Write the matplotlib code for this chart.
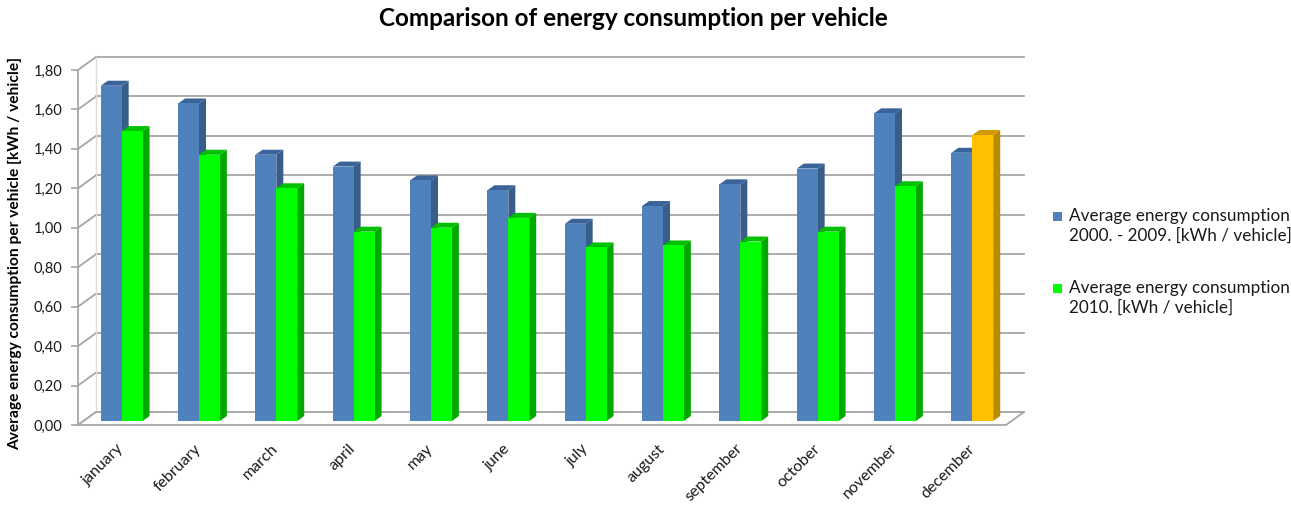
import matplotlib
matplotlib.use("Agg")
import matplotlib.pyplot as plt
from matplotlib.patches import Polygon, Rectangle

months = ["january", "february", "march", "april", "may", "june", "july",
          "august", "september", "october", "november", "december"]
avg_2000_2009 = [1.70, 1.61, 1.35, 1.29, 1.22, 1.17, 1.00, 1.09, 1.20, 1.28, 1.56, 1.36]
avg_2010 = [1.47, 1.35, 1.18, 0.96, 0.98, 1.03, 0.88, 0.89, 0.91, 0.96, 1.19, 1.45]
yticks = [0.0, 0.2, 0.4, 0.6, 0.8, 1.0, 1.2, 1.4, 1.6, 1.8]
ytick_labels = ["0,00", "0,20", "0,40", "0,60", "0,80", "1,00", "1,20", "1,40", "1,60", "1,80"]
legend_labels = ["Average energy consumption\n2000. - 2009. [kWh / vehicle]",
                 "Average energy consumption\n2010. [kWh / vehicle]"]
title = "Comparison of energy consumption per vehicle"
ylabel = "Average energy consumption per vehicle [kWh / vehicle]"

FONT = ["Lato", "DejaVu Sans"]
plt.rcParams['font.family'] = FONT

W, H = 1291, 508
fig = plt.figure(figsize=(W / 100, H / 100), dpi=100)
ax_l, ax_r, ax_b, ax_t = 78, 1006, 425, 70
ax = fig.add_axes([ax_l / W, 1 - ax_b / H, (ax_r - ax_l) / W, (ax_b - ax_t) / H])
n = len(months)
ax.set_xlim(0, n)
ax.set_ylim(0, 1.8)

# pixel -> data conversion
ux = (ax_r - ax_l) / n
uy = (ax_b - ax_t) / 1.8
DX, DY = 18 / ux, 13 / uy          # full floor depth
OX, OY = 5 / ux, 4 / uy            # bar front offset
BX, BY = 7 / ux, 5 / uy            # bar depth

grid_c = "#A6A6A6"
for v in yticks:
    ax.plot([DX, n + DX], [v + DY, v + DY], color=grid_c, lw=1.3, clip_on=False, zorder=1)
    ax.plot([0, DX], [v, v + DY], color=grid_c, lw=1.3, clip_on=False, zorder=1)
ax.plot([DX, DX], [DY, 1.8 + DY], color="#DDDDDD", lw=1.0, clip_on=False, zorder=1)
floor = Polygon([(0, 0), (n, 0), (n + DX, DY), (DX, DY)], closed=True,
                facecolor="white", edgecolor=grid_c, lw=1.3, clip_on=False, zorder=1.5)
ax.add_patch(floor)
ax.plot([0, 0], [0, 1.8], color=grid_c, lw=1.3, clip_on=False, zorder=1.6)

bw = 0.27
blue = ("#4F81BD", "#385D8A", "#3A639A")
green = ("#00FF00", "#00A800", "#00C000")
yellow = ("#FFC000", "#B88A00", "#D09A00")

z = 2
def bar3d(x, h, cols):
    global z
    front, side, top = cols
    x0 = x + OX
    y0 = OY
    sidep = Polygon([(x0 + bw, y0), (x0 + bw + BX, y0 + BY), (x0 + bw + BX, y0 + h + BY), (x0 + bw, y0 + h)],
                    closed=True, facecolor=side, edgecolor="none", clip_on=False, zorder=z)
    topp = Polygon([(x0, y0 + h), (x0 + bw, y0 + h), (x0 + bw + BX, y0 + h + BY), (x0 + BX, y0 + h + BY)],
                   closed=True, facecolor=top, edgecolor="none", clip_on=False, zorder=z)
    ax.add_patch(sidep)
    ax.add_patch(topp)
    ax.bar([x0], [h], width=bw, bottom=y0, align="edge", color=front, edgecolor="none",
           clip_on=False, zorder=z + 0.5)
    z += 1

for i in range(n):
    c = i + 0.5
    bar3d(c - bw, avg_2000_2009[i], blue)
    bar3d(c, avg_2010[i], yellow if i == n - 1 else green)

for s in ax.spines.values():
    s.set_visible(False)
ax.set_yticks(yticks)
ax.set_yticklabels(ytick_labels, fontsize=10.5, color="#1a1a1a")
ax.tick_params(axis="y", length=5, color=grid_c, width=1.2, pad=6)
ax.set_xticks([i + 0.5 for i in range(n)])
ax.set_xticklabels(months, rotation=45, ha="right", va="top", rotation_mode="anchor",
                   fontsize=11.5, color="#1a1a1a")
ax.tick_params(axis="x", length=0, pad=12)
ax.patch.set_visible(False)

fig.text(633 / W, 1 - 18 / H, title, ha="center", va="center", fontsize=17.5, fontweight="bold")
fig.text(15 / W, 1 - 253 / H, ylabel, rotation=90, ha="center", va="center",
         fontsize=11.2, fontweight="bold")

# legend (manual: marker aligned with first text line, as in the reference)
leg_colors = [blue[0], green[0]]
leg_tops = [208, 280]
for col, lab, t in zip(leg_colors, legend_labels, leg_tops):
    fig.patches.append(Rectangle((1053 / W, 1 - (t + 13) / H), 9 / W, 9 / H,
                                 transform=fig.transFigure, facecolor=col, edgecolor="none"))
    fig.text(1069 / W, 1 - t / H, lab, ha="left", va="top", fontsize=12.3,
             linespacing=1.28, color="#1a1a1a")

fig.savefig("out.png", dpi=100)
